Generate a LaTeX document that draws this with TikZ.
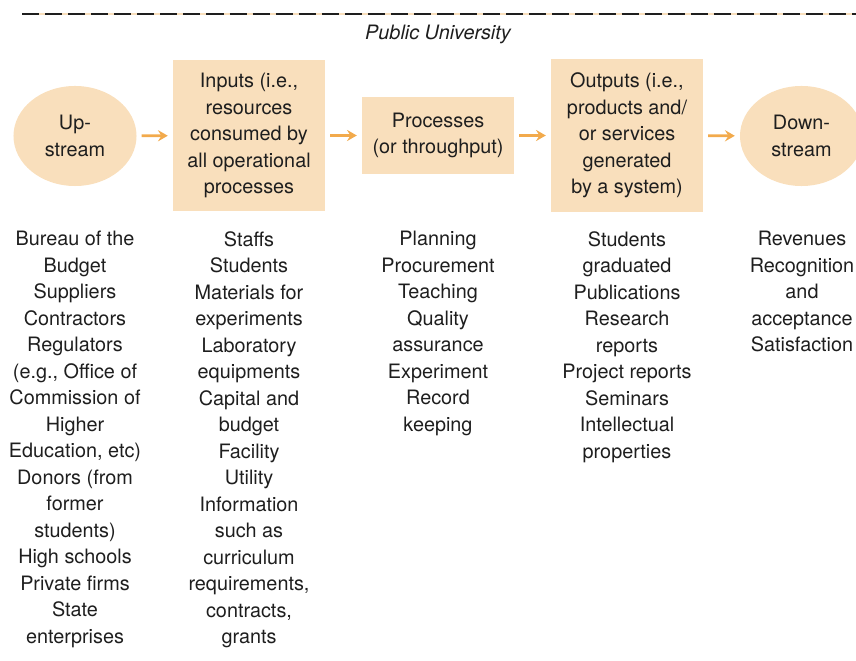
\documentclass[tikz,border=0pt]{standalone}
\usepackage{fontspec}
\setmainfont{TeX Gyre Heros}
\usetikzlibrary{arrows.meta,shapes.geometric}

\definecolor{peach}{HTML}{F9DFBC}
\definecolor{flowor}{HTML}{F2AA4C}
\definecolor{ink}{HTML}{1E1E1E}

\begin{document}
\begin{tikzpicture}[x=0.025cm, y=-0.025cm,
  font=\fontsize{14.1}{18.85}\selectfont, text=ink,
  stage/.style={ellipse,fill=peach,minimum width=3.075cm,minimum height=2.5cm,inner sep=0pt,align=center},
  block/.style={rectangle,fill=peach,minimum width=3.8cm,inner sep=0pt,align=center},
  items/.style={anchor=north,inner sep=0pt,align=center},
  flow/.style={-{Stealth[length=7pt,width=8pt,inset=2.5pt]},draw=flowor,line width=2pt,shorten <=3.5pt,shorten >=3.5pt}]
  \useasboundingbox (0,0) rectangle (856,661);

  % Frame line and title
  \coordinate (fl) at (22,14);
  \coordinate (fr) at (856,14);
  \draw[peach,line width=1pt] (fl) -- (fr);
  \draw[ink,line width=0.9pt,dash pattern=on 12.1pt off 4.3pt] (fl) -- (fr);
  \node (title) at (438,34) {\itshape Public University};

  % Chain
  \node[stage] (up) at (75,136) {Up-\\stream};
  \node[block,minimum height=3.775cm] (in) at (249,135.5) {Inputs (i.e.,\\resources\\consumed by\\all operational\\processes};
  \node[block,minimum height=1.925cm] (proc) at (438,135.5) {Processes\\(or throughput)};
  \node[block,minimum height=3.8cm] (out) at (627,135.5) {Outputs (i.e.,\\products and/\\or services\\generated\\by a system)};
  \node[stage] (down) at (801.5,136) {Down-\\stream};

  % Arrows
  \draw[flow] (up) -- (in);
  \draw[flow] (in) -- (proc);
  \draw[flow] (proc) -- (out);
  \draw[flow] (out) -- (down);

  % Lists
  \node[items] (upl) at (75,231) {Bureau of the\\Budget\\Suppliers\\Contractors\\Regulators\\(e.g., Office of\\Commission of\\Higher\\Education, etc)\\Donors (from\\former\\students)\\High schools\\Private firms\\State\\enterprises};
  \node[items] (inl) at (249,231) {Staffs\\Students\\Materials for\\experiments\\Laboratory\\equipments\\Capital and\\budget\\Facility\\Utility\\Information\\such as\\curriculum\\requirements,\\contracts,\\grants};
  \node[items] (procl) at (438,231) {Planning\\Procurement\\Teaching\\Quality\\assurance\\Experiment\\Record\\keeping};
  \node[items] (outl) at (627,231) {Students\\graduated\\Publications\\Research\\reports\\Project reports\\Seminars\\Intellectual\\properties};
  \node[items] (downl) at (802,231) {Revenues\\Recognition\\and\\acceptance\\Satisfaction};
\end{tikzpicture}
\end{document}
